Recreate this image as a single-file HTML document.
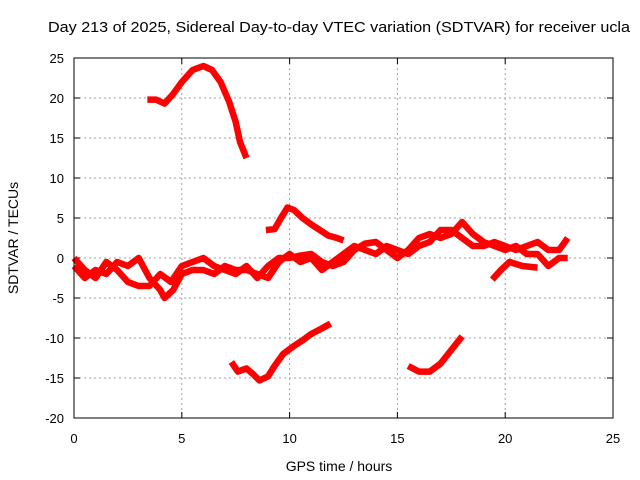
<!DOCTYPE html>
<html><head><meta charset="utf-8"><style>
body{margin:0;background:#fff;}
svg{display:block;font-family:"Liberation Sans",sans-serif;}
</style></head><body>
<svg id="chart" width="640" height="480" viewBox="0 0 640 480">
<text x="339" y="32" font-size="15" text-anchor="middle" textLength="582" lengthAdjust="spacingAndGlyphs">Day 213 of 2025, Sidereal Day-to-day VTEC variation (SDTVAR) for receiver ucla</text>
<g id="grid"></g>
<g id="axes"></g>
<g id="series"></g>
<rect x="74" y="58" width="539" height="360" fill="none" stroke="#000" stroke-width="1"/>
<text x="339" y="471" font-size="14" text-anchor="middle">GPS time / hours</text>
<text x="0" y="0" font-size="14" text-anchor="middle" transform="translate(18,238) rotate(-90)">SDTVAR / TECUs</text>
</svg>
<script>
const xTicks=[0,5,10,15,20,25];
const yTicks=[-20,-15,-10,-5,0,5,10,15,20,25];
const segA=[[3.4,19.8],[3.8,19.8],[4.2,19.3],[4.6,20.5],[5,22],[5.5,23.5],[6,24],[6.4,23.5],[6.8,22],[7.2,19.5],[7.5,17],[7.7,14.5],[8,12.5]];
const segB=[[8.9,3.5],[9.3,3.6],[9.6,5],[9.9,6.3],[10.2,6],[10.6,5],[11,4.2],[11.4,3.5],[11.8,2.8],[12.2,2.5],[12.5,2.2]];
const segC=[[7.3,-13],[7.6,-14.2],[8,-13.8],[8.3,-14.5],[8.6,-15.3],[9,-14.8],[9.3,-13.5],[9.7,-12],[10.2,-11],[10.6,-10.3],[11,-9.5],[11.5,-8.8],[11.9,-8.2]];
const segD=[[15.5,-13.5],[16,-14.2],[16.5,-14.2],[17,-13.2],[17.5,-11.5],[18,-9.8]];
const segE1=[[0,-1],[0.5,-2.5],[1,-1.5],[1.5,-2],[2,-0.5],[2.5,-1],[3,0],[3.5,-2.5],[4,-4],[4.2,-5],[4.6,-4],[5,-2],[5.5,-1.5],[6,-1.5],[6.5,-2],[7,-1],[7.5,-1.5],[8,-1.5],[8.5,-2],[9,-2.5],[9.5,-0.5],[10,0.5],[10.5,-0.5],[11,0],[11.5,-1.5],[12,-0.5],[12.5,0.5],[13,1.5],[13.5,1],[14,0.5],[14.5,1.5],[15,1],[15.5,0.5],[16,1.5],[16.5,2],[17,3.5],[17.5,3.5],[18,2.5],[18.5,1.5],[19,1.5],[19.5,2],[20,1.5],[20.5,1],[21,1.5],[21.5,2],[22,1],[22.5,1],[22.9,2.5]];
const segE2=[[0,0],[0.5,-1.5],[1,-2.5],[1.5,-0.5],[2,-1.5],[2.5,-3],[3,-3.5],[3.5,-3.5],[4,-2],[4.5,-3],[5,-1],[5.5,-0.5],[6,0],[6.5,-1],[7,-1.5],[7.5,-2],[8,-1],[8.5,-2.5],[9,-1],[9.5,0],[10,0],[10.5,0.3],[11,0.5],[11.5,-0.5],[12,-1],[12.5,-0.5],[13,1],[13.5,1.8],[14,2],[14.5,1],[15,0],[15.5,1],[16,2.5],[16.5,3],[17,2.5],[17.5,3],[18,4.5],[18.5,3],[19,2],[19.5,1.5],[20,1],[20.5,1.5],[21,0.5],[21.5,0.5],[22,-1],[22.5,0],[22.9,0]];
const segE3=[[19.4,-2.7],[19.8,-1.5],[20.2,-0.5],[20.8,-1],[21.5,-1.2]];
const segments=[segA,segB,segC,segD,segE1,segE2,segE3];
const NS="http://www.w3.org/2000/svg";
const X=v=>74+v*539/25;
const Y=v=>258-v*8;
const grid=document.getElementById('grid'),axes=document.getElementById('axes'),ser=document.getElementById('series');
function mk(tag,attrs,parent){const e=document.createElementNS(NS,tag);for(const k in attrs)e.setAttribute(k,attrs[k]);parent.appendChild(e);return e;}
xTicks.forEach(t=>{
  if(t>0&&t<25){const g=mk('line',{x1:X(t),x2:X(t),y1:58,y2:418,stroke:'#a0a0a0','stroke-dasharray':'2,3'},grid);
  
  }
  mk('line',{x1:X(t),x2:X(t),y1:418,y2:412,stroke:'#000'},axes);
  mk('line',{x1:X(t),x2:X(t),y1:58,y2:64,stroke:'#000'},axes);
  const l=mk('text',{x:X(t),y:443,'font-size':13,'text-anchor':'middle'},axes);l.textContent=t;
  
  
});
yTicks.forEach(t=>{
  if(t>-20&&t<25){const g=mk('line',{x1:74,x2:613,y1:Y(t),y2:Y(t),stroke:'#a0a0a0','stroke-dasharray':'2,3'},grid);
  
  }
  mk('line',{x1:74,x2:80,y1:Y(t),y2:Y(t),stroke:'#000'},axes);
  mk('line',{x1:607,x2:613,y1:Y(t),y2:Y(t),stroke:'#000'},axes);
  const l=mk('text',{x:64,y:Y(t)+5,'font-size':13,'text-anchor':'end'},axes);l.textContent=t;
  
  
});
segments.forEach(s=>{
  const p=mk('polyline',{points:s.map(d=>X(d[0])+','+Y(d[1])).join(' '),fill:'none',stroke:'#ff0000','stroke-width':6.5,'stroke-linejoin':'round'},ser);
  
  
});
</script>
</body></html>
